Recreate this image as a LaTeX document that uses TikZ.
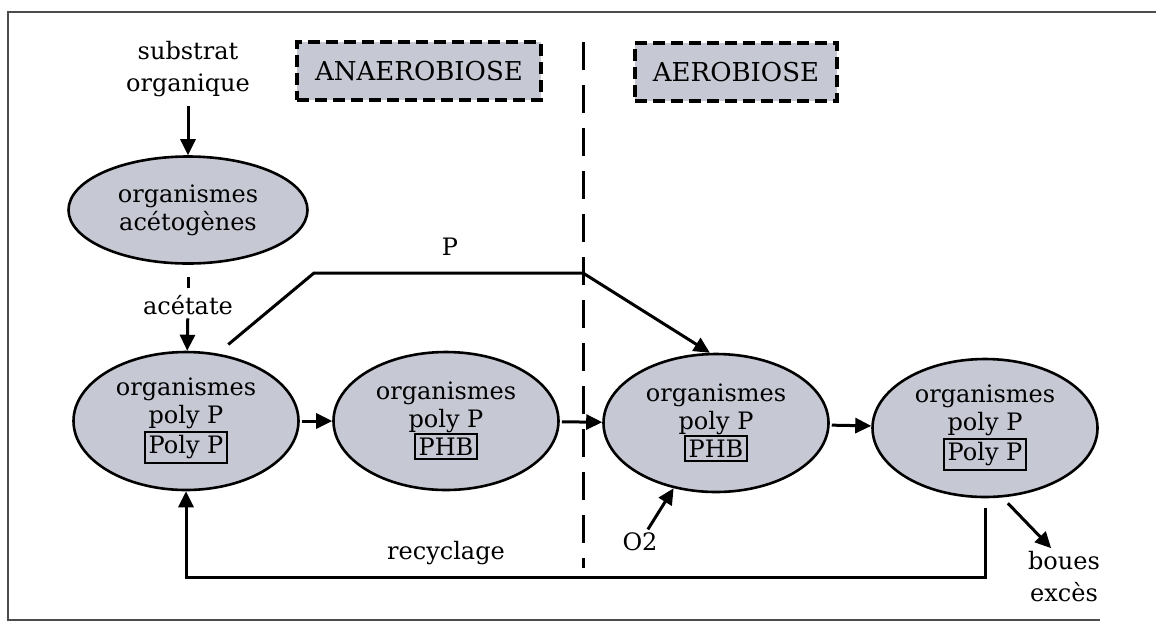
\documentclass[tikz,border=0pt]{standalone}
\usepackage{fontspec}
\setmainfont{DejaVu Serif}
\usetikzlibrary{arrows.meta,shapes.geometric}
\definecolor{cellgray}{RGB}{198,200,212}
\setlength{\fboxsep}{1.5pt}
\setlength{\fboxrule}{0.9pt}

\begin{document}
\begin{tikzpicture}
  [x=0.5pt,y=-0.5pt,line width=1.5pt,
   org/.style={ellipse,draw,fill=cellgray,line width=1.3pt,inner sep=0pt,align=center,
     minimum width=112.5pt,minimum height=69pt,font=\fontsize{12}{14}\selectfont},
   hdr/.style={draw,fill=cellgray,line width=2pt,dash pattern=on 6pt off 3pt,
     minimum height=29pt,inner xsep=9pt,font=\fontsize{13}{15}\selectfont},
   txt/.style={align=center,inner sep=1pt,font=\fontsize{12}{16}\selectfont},
   flow/.style={arrows={-{Triangle[length=8pt,width=7.5pt]}}}]
  \useasboundingbox (0,0) rectangle (1156,628);
  % frame of the page
  \draw[line width=0.8pt,black!70] (1156,12) -- (8,12) -- (8,620) -- (1100,620);

  \node[hdr] (ana) at (419,71) {ANAEROBIOSE};
  \node[hdr] (aer) at (736,72) {AEROBIOSE};
  \draw[line width=1.5pt,dash pattern=on 14pt off 7.5pt] (583,42) -- (583,568);

  \node[txt] (sub) at (188,69) {substrat\\organique};
  \node[org,minimum width=119.5pt,minimum height=53.5pt] (aceto) at (188,210) {organismes\\acétogènes};
  \node[txt] (ace) at (188,305) {acétate};
  \node[org] (n1) at (186,421) {organismes\\poly P\\\fbox{Poly P}};
  \node[org] (n2) at (446,421) {organismes\\poly P\\\fbox{PHB}};
  \node[org] (n3) at (716,423) {organismes\\poly P\\\fbox{PHB}};
  \node[org] (n4) at (985,428) {organismes\\poly P\\\fbox{Poly P}};

  \node[txt] (plab) at (450,247) {P};
  \node[txt] (o2) at (640,542) {O2};
  \node[txt] (rec) at (446,553) {recyclage};
  \node[txt] (boues) at (1064,577) {boues\\excès};

  \coordinate (pl) at (314,273);
  \coordinate (pr) at (583,273);
  \coordinate (rbot) at (0,577);

  \draw[flow,shorten <=3pt] (sub) -- (aceto);
  \draw[dash pattern=on 8pt off 6pt,shorten <=6pt,shorten >=2pt] (aceto) -- (ace);
  \draw[flow] (ace) -- (n1);
  \draw[flow,shorten <=1pt] (n1) -- (n2);
  \draw[flow,shorten <=1pt] (n2) -- (n3);
  \draw[flow,shorten <=1pt] (n3) -- (n4);
  \draw[flow,shorten <=7pt] (n1.65) -- (pl) -- (pr) -- (n3.95);
  \draw[flow] (o2) -- (n3.237);
  \draw[flow,shorten <=4pt] (n4.-76) -- (boues.114);
  \draw[flow,shorten <=5pt] (n4.south) -- (n4.south |- rbot) -| (n1.south);
\end{tikzpicture}
\end{document}
